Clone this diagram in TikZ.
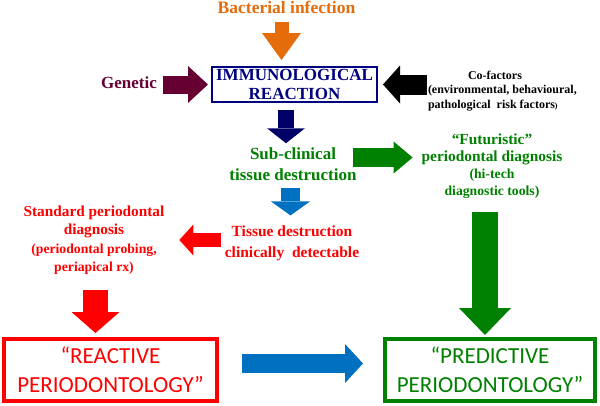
\documentclass[tikz,border=0pt]{standalone}
\usepackage{fontspec}
\setmainfont{Liberation Serif}
\newfontfamily\calibrifont{Carlito}
\usetikzlibrary{arrows.meta}

\definecolor{infOrange}{RGB}{228,108,10}
\definecolor{immNavy}{RGB}{0,0,128}
\definecolor{arrNavy}{RGB}{0,0,102}
\definecolor{genMaroon}{RGB}{102,0,51}
\definecolor{perGreen}{RGB}{0,128,0}
\definecolor{perBlue}{RGB}{0,112,192}
\definecolor{perRed}{RGB}{255,0,0}

\tikzset{
  lbl/.style={font=\bfseries, inner sep=0pt, outer sep=0pt, align=center},
  fat/.style n args={3}{line width=#1pt, -{Triangle[length=#2pt, width=#3pt, line width=0pt]}},
  endbox/.style={draw, line width=4pt, inner sep=0pt, outer sep=0pt, minimum width=213pt, minimum height=62pt, align=center, font=\calibrifont\fontsize{23}{28.5}\selectfont}
}

\begin{document}
\begin{tikzpicture}[x=1pt,y=1pt,yscale=-1]
\useasboundingbox (0,0) rectangle (600,405);

\node[lbl, text=infOrange, font=\bfseries\fontsize{17.5}{20}\selectfont, anchor=base] (bact) at (286.5,13) {Bacterial infection};
\node[lbl, draw=immNavy, line width=2pt, minimum width=165pt, minimum height=35pt, text=immNavy, font=\bfseries\fontsize{17}{19}\selectfont] (immuno) at (294.5,84.5) {IMMUNOLOGICAL\\REACTION};
\node[lbl, text=genMaroon, font=\bfseries\fontsize{17}{20}\selectfont, anchor=base] (gen) at (129,88) {Genetic};
\node[lbl, font=\bfseries\fontsize{12}{14.5}\selectfont, align=left, anchor=west] (cof) at (428,91) {\hspace*{40pt}Co-factors\\(environmental, behavioural,\\pathological\ \ risk factors{\fontsize{8}{10}\selectfont)}};
\node[lbl, text=perGreen, font=\bfseries\fontsize{17}{20.5}\selectfont] (sub) at (293,164) {Sub-clinical\\tissue destruction};
\node[lbl, text=perGreen, font=\bfseries\fontsize{15.4}{17}\selectfont] (fut) at (492,166.5) {“Futuristic”\\periodontal diagnosis\\{\fontsize{13.7}{17}\selectfont (hi-tech}\\{\fontsize{13.7}{17}\selectfont diagnostic tools)}};
\node[lbl, text=perRed, font=\bfseries\fontsize{15.5}{21}\selectfont] (tis) at (292,243) {Tissue destruction\\clinically\ \ detectable};
\node[lbl, text=perRed, font=\bfseries\fontsize{15.3}{18.5}\selectfont] (std) at (94,240) {Standard periodontal\\diagnosis\\{\fontsize{13.7}{18.5}\selectfont (periodontal probing,}\\{\fontsize{13.7}{18.5}\selectfont periapical rx)}};
\node[endbox, draw=perRed, text=perRed] (reactive) at (110.5,370) {“REACTIVE\\PERIODONTOLOGY”};
\node[endbox, draw=perGreen, text=perGreen, minimum width=210pt] (predictive) at (490,370) {“PREDICTIVE\\PERIODONTOLOGY”};

\draw[fat={14}{27}{39}, infOrange] ([shift={(-5,9)}]bact.base) -- ([shift={(-13,-7)}]immuno.north);
\draw[fat={18}{20}{37}, genMaroon] ([xshift=6pt]gen.east |- immuno.west) -- ([xshift=-4pt]immuno.west);
\draw[fat={20}{17}{38}, black] ([xshift=-1pt]cof.west |- immuno.east) -- ([xshift=6pt]immuno.east);
\draw[fat={16}{15}{38}, arrNavy] ([shift={(-8.5,8)}]immuno.south) -- ([shift={(-8.5,-4.5)}]immuno.south |- sub.north);
\draw[fat={19}{19}{32}, perGreen] ([shift={(-4,-6.5)}]sub.east) -- ([shift={(-9,-6.5)}]sub.east -| fut.west);
\draw[fat={19}{14}{39}, perBlue] ([shift={(-2.5,8)}]sub.south) -- ([shift={(-2.5,-10)}]sub.south |- tis.north);
\draw[fat={14}{14}{31}, perRed] ([shift={(-4,-3)}]tis.west) -- ([shift={(15,-3)}]tis.west -| std.east);
\draw[fat={25}{21}{48}, perRed] ([shift={(1.5,15)}]std.south) -- ([shift={(1.5,-6)}]std.south |- reactive.north);
\draw[fat={26}{27}{52}, perGreen] ([shift={(-7,13)}]fut.south) -- ([shift={(-7,-4)}]fut.south |- predictive.north);
\draw[fat={19}{18}{39}, perBlue] ([shift={(25,-6.5)}]reactive.east) -- ([shift={(-22,-6.5)}]reactive.east -| predictive.west);
\end{tikzpicture}
\end{document}
